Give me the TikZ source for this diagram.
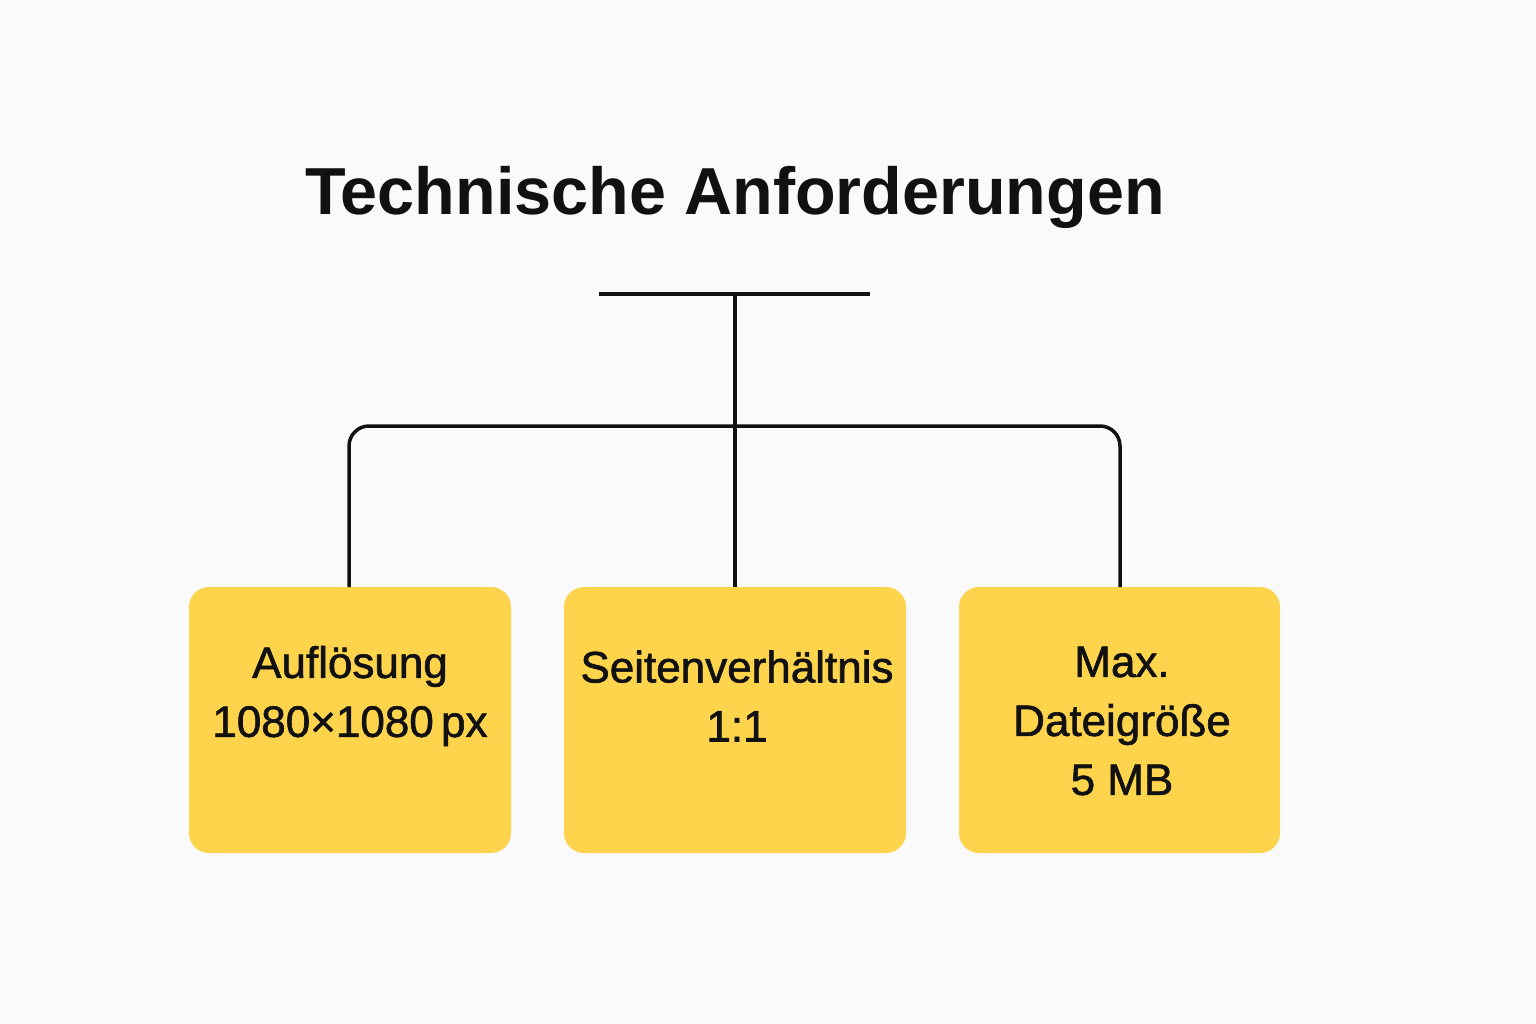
\documentclass[tikz,border=0pt]{standalone}
\usepackage{fontspec}
\setmainfont{Liberation Sans}
\newfontfamily\medfont[FakeBold=1.4]{Liberation Sans}
\definecolor{bg}{HTML}{FAFAFA}
\definecolor{boxy}{HTML}{FDD44C}
\definecolor{ink}{HTML}{111111}
\begin{document}
\begin{tikzpicture}[x=1pt,y=-1pt,
  card/.style={fill=boxy, draw=none, rounded corners=20pt},
  wire/.style={draw=ink, line width=3.5pt},
  lbl/.style={font=\medfont\fontsize{44}{59}\selectfont, text=ink, align=center, inner sep=0pt},
  ttl/.style={font=\fontsize{66.5}{70}\selectfont\bfseries, text=ink, inner sep=0pt, anchor=base}]
\fill[bg] (0,0) rectangle (1536,1024);
\useasboundingbox (0,0) rectangle (1536,1024);
% title
\node[ttl] (title) at (735,215) {Technische Anforderungen};
% boxes
\path[card] (189,587) rectangle (511,853);
\path[card] (564,587) rectangle (906,853);
\path[card] (959,587) rectangle (1280,853);
\coordinate (b1) at (349,587);
\coordinate (b2) at (735,587);
\coordinate (b3) at (1120,587);
\coordinate (tl) at (599,294);
\coordinate (tr) at (870,294);
\coordinate (tm) at (735,294);
% connectors
\draw[wire] (tl) -- (tr);
\draw[wire] (tm) -- (b2);
\draw[wire, rounded corners=20pt] (b1) -- (349,426) -- (1120,426) -- (b3);
% labels
\node[lbl] (l1) at (350,696) {Auflösung\\1080×1080\,px};
\node[lbl] (l2) at (737,696) {Seitenverhältnis\\1:1};
\node[lbl] (l3) at (1122,721) {Max.\\Dateigröße\\5 MB};
\end{tikzpicture}
\end{document}
